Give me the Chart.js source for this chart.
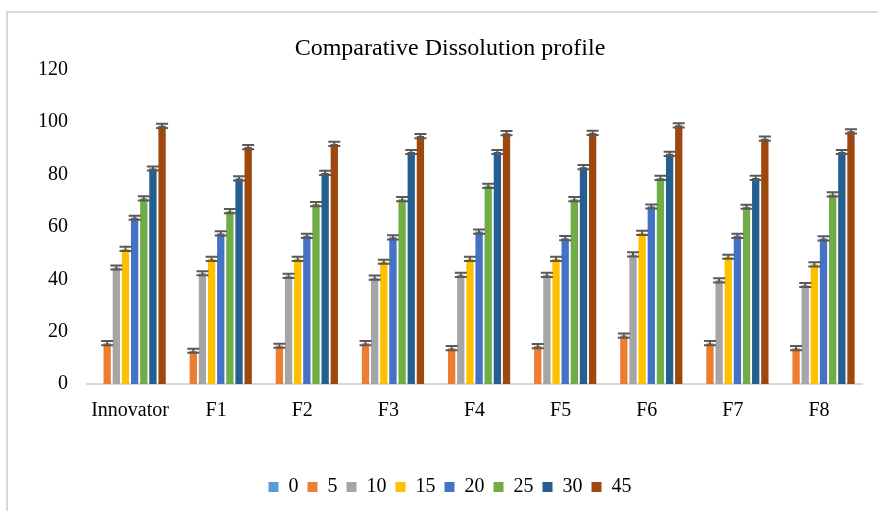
<!DOCTYPE html>
<html>
<head>
<meta charset="utf-8">
<script src="https://cdn.jsdelivr.net/npm/chart.js@4.4.1/dist/chart.umd.min.js"></script>
<style>
  html, body { margin: 0; padding: 0; background: #fff; }
  #frame { position: absolute; left: 0; top: 0; width: 878px; height: 511px; }
  .edge { position: absolute; background: #d9d9d9; }
</style>
</head>
<body>
<div id="frame">
  <div class="edge" style="left:6px; top:11px; width:872px; height:2px;"></div>
  <div class="edge" style="left:6px; top:11px; width:2px; height:500px;"></div>
  <canvas id="chart" width="878" height="511" style="position:absolute; left:0; top:0;"></canvas>
</div>
<script>
// ------------------------------
// Data
// ------------------------------
const formulations = ["Innovator", "F1", "F2", "F3", "F4", "F5", "F6", "F7", "F8"];
const timePoints = ["0", "5", "10", "15", "20", "25", "30", "45"];

const t0  = [0, 0, 0, 0, 0, 0, 0, 0, 0];
const t5  = [15.6, 12.7, 14.6, 15.6, 13.7, 14.5, 18.5, 15.6, 13.7];
const t10 = [44.5, 42.3, 41.3, 40.6, 41.7, 41.7, 49.5, 39.6, 37.8];
const t15 = [51.6, 47.8, 47.8, 46.7, 47.8, 47.8, 57.7, 48.6, 45.7];
const t20 = [63.5, 57.5, 56.6, 56.0, 58.2, 55.7, 67.8, 56.6, 55.6];
const t25 = [70.9, 66.0, 68.7, 70.6, 75.7, 70.6, 78.7, 67.7, 72.4];
const t30 = [82.3, 78.5, 80.6, 88.6, 88.6, 82.8, 87.9, 78.7, 88.6];
const t45 = [98.6, 90.5, 91.7, 94.7, 95.8, 95.9, 98.8, 93.7, 96.5];

// +/- error (SD) per time point, same for every formulation
const errors = [0, 0.8, 0.8, 0.8, 0.8, 0.8, 0.8, 0.8];

const yTicks = [0, 20, 40, 60, 80, 100, 120];

const seriesColors = ["#5b9bd5", "#ed7d31", "#a5a5a5", "#ffc000", "#4472c4", "#70ad47", "#255e91", "#9e480e"];
const seriesValues = [t0, t5, t10, t15, t20, t25, t30, t45];

const serif = "'Liberation Serif', 'Times New Roman', serif";

// ------------------------------
// Error bars (drawn from the y scale)
// ------------------------------
const errorBars = {
  id: "errorBars",
  afterDatasetsDraw(chart) {
    const { ctx, scales: { y } } = chart;
    ctx.save();
    ctx.strokeStyle = "#595959";
    ctx.lineWidth = 2;
    chart.data.datasets.forEach((ds, di) => {
      const err = errors[di];
      if (!err) return;
      chart.getDatasetMeta(di).data.forEach((bar, i) => {
        const v = ds.data[i];
        const hi = y.getPixelForValue(v + err);
        const lo = y.getPixelForValue(v - err);
        const half = 6;
        ctx.beginPath();
        ctx.moveTo(bar.x, hi); ctx.lineTo(bar.x, lo);
        ctx.moveTo(bar.x - half, hi); ctx.lineTo(bar.x + half, hi);
        ctx.moveTo(bar.x - half, lo); ctx.lineTo(bar.x + half, lo);
        ctx.stroke();
      });
    });
    ctx.restore();
  }
};

new Chart(document.getElementById("chart"), {
  type: "bar",
  data: {
    labels: formulations,
    datasets: timePoints.map((t, i) => ({
      label: t,
      data: seriesValues[i],
      backgroundColor: seriesColors[i],
      borderWidth: 0,
      categoryPercentage: 0.85,
      barPercentage: 0.8
    }))
  },
  options: {
    responsive: false,
    animation: false,
    events: [],
    layout: { padding: { left: 38, right: 16, top: 0, bottom: 4 } },
    plugins: {
      title: {
        display: true,
        text: "Comparative Dissolution profile",
        color: "#000",
        font: { family: serif, size: 24, weight: "normal" },
        padding: { top: 34, bottom: 7 }
      },
      legend: {
        position: "bottom",
        labels: {
          color: "#000",
          font: { family: serif, size: 20 },
          boxWidth: 10,
          boxHeight: 10,
          padding: 9
        }
      },
      tooltip: { enabled: false }
    },
    scales: {
      x: {
        grid: { display: false, drawTicks: false },
        border: { display: true, color: "#d9d9d9", width: 2 },
        ticks: { color: "#000", font: { family: serif, size: 20 }, padding: 15, maxRotation: 0 },
        afterFit: (s) => { s.height = 84; }
      },
      y: {
        min: 0,
        max: 120,
        afterBuildTicks: (s) => { s.ticks = yTicks.map(v => ({ value: v })); },
        grid: { display: false, drawTicks: false },
        border: { display: false },
        ticks: { color: "#000", font: { family: serif, size: 20 }, padding: 19 },
        afterFit: (s) => { s.width = 49; }
      }
    }
  },
  plugins: [errorBars]
});
</script>
</body>
</html>
